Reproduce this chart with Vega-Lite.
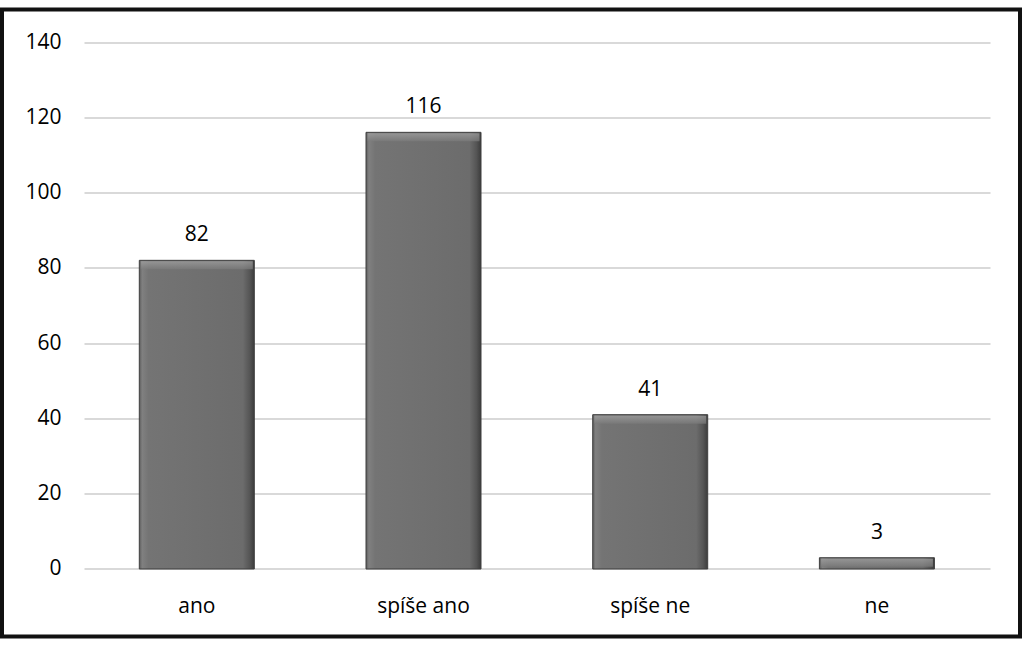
{
  "$schema": "https://vega.github.io/schema/vega-lite/v6.json",
  "width": 1018,
  "height": 627,
  "autosize": {"type": "none"},
  "padding": {"left": 2, "top": 9.5, "right": 4, "bottom": 11.5},
  "background": "white",
  "config": {
    "view": {"stroke": "#111111", "strokeWidth": 4},
    "font": "Open Sans"
  },
  "data": {
    "values": [
      {"odpoved": "ano", "pocet": 82},
      {"odpoved": "spíše ano", "pocet": 116},
      {"odpoved": "spíše ne", "pocet": 41},
      {"odpoved": "ne", "pocet": 3}
    ]
  },
  "encoding": {
    "x": {
      "field": "odpoved",
      "type": "nominal",
      "sort": null,
      "scale": {"paddingInner": 0.4927, "paddingOuter": 0.4916, "align": 0.616},
      "axis": {
        "title": null,
        "orient": "bottom",
        "offset": -67.5,
        "domain": false,
        "ticks": false,
        "labelPadding": 43,
        "labelBaseline": "alphabetic",
        "labelAngle": 0,
        "labelFont": "Open Sans",
        "labelFontSize": 21,
        "labelColor": "#000000"
      }
    },
    "y": {
      "field": "pocet",
      "type": "quantitative",
      "scale": {"domain": [-17.932, 148.634], "nice": false, "zero": false},
      "axis": {
        "title": null,
        "orient": "left",
        "offset": -82,
        "domain": false,
        "grid": false,
        "values": [0, 20, 40, 60, 80, 100, 120, 140],
        "ticks": true,
        "tickSize": -906,
        "tickColor": "#d9d9d9",
        "tickWidth": 2,
        "labelPadding": 929,
        "labelFont": "Open Sans",
        "labelFontSize": 21,
        "labelColor": "#000000"
      }
    }
  },
  "layer": [
    {
      "mark": {
        "type": "bar",
        "stroke": "#3f3f3f",
        "strokeWidth": 1,
        "color": {
          "gradient": "linear",
          "x1": 0, "y1": 0, "x2": 1, "y2": 0,
          "stops": [
            {"offset": 0, "color": "#5c5c5c"},
            {"offset": 0.025, "color": "#808080"},
            {"offset": 0.08, "color": "#747474"},
            {"offset": 0.9, "color": "#6c6c6c"},
            {"offset": 0.96, "color": "#555555"},
            {"offset": 1, "color": "#3c3c3c"}
          ]
        }
      },
      "encoding": {
        "y2": {"datum": 0}
      }
    },
    {
      "mark": {
        "type": "tick",
        "orient": "horizontal",
        "size": 112,
        "thickness": 8,
        "yOffset": 5,
        "color": {
          "gradient": "linear",
          "x1": 0, "y1": 0, "x2": 0, "y2": 1,
          "stops": [
            {"offset": 0, "color": "#a3a3a3"},
            {"offset": 1, "color": "#7b7b7b"}
          ]
        }
      },
      "encoding": {}
    },
    {
      "mark": {
        "type": "text",
        "baseline": "alphabetic",
        "dy": -19,
        "font": "Open Sans",
        "fontSize": 21,
        "color": "#000000"
      },
      "encoding": {
        "text": {"field": "pocet", "type": "quantitative"}
      }
    }
  ]
}
